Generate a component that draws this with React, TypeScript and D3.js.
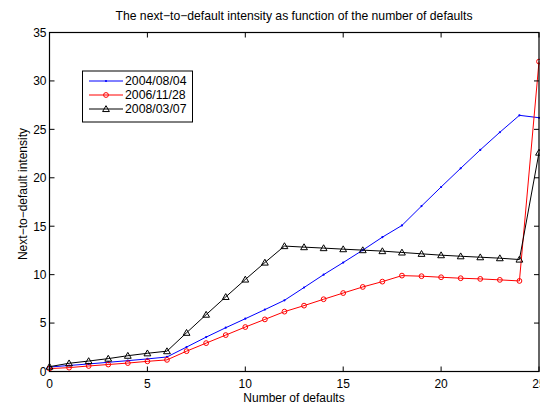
import React from "react";
import * as d3 from "d3";

const xs = d3.range(0, 26);
const blue = [0.46, 0.62, 0.78, 0.95, 1.12, 1.3, 1.5, 2.52, 3.55, 4.52, 5.45, 6.39, 7.35, 8.67, 10.0, 11.25, 12.53, 13.87, 15.08, 17.08, 19.05, 20.98, 22.88, 24.7, 26.45, 26.2];
const red = [0.3, 0.4, 0.57, 0.72, 0.87, 1.05, 1.2, 2.1, 2.93, 3.76, 4.59, 5.38, 6.18, 6.8, 7.46, 8.1, 8.73, 9.28, 9.9, 9.84, 9.73, 9.63, 9.56, 9.46, 9.35, 32.0];
const black = [0.5, 0.85, 1.08, 1.33, 1.63, 1.88, 2.1, 4.0, 5.87, 7.7, 9.5, 11.25, 12.95, 12.84, 12.74, 12.63, 12.53, 12.43, 12.29, 12.15, 12.01, 11.9, 11.8, 11.7, 11.56, 22.6];
const seriesNames = ["2004/08/04", "2006/11/28", "2008/03/07"];
const xTicks = [0, 5, 10, 15, 20, 25];
const yTicks = [0, 5, 10, 15, 20, 25, 30, 35];

const M = { left: 49.5, right: 539, top: 32.5, bottom: 371.5 };
const font = "'Liberation Sans', Arial, Helvetica, sans-serif";

export default function App() {
  const x = d3.scaleLinear().domain([0, 25]).range([M.left, M.right]);
  const y = d3.scaleLinear().domain([0, 35]).range([M.bottom, M.top]);
  const line = d3.line<number>().x((_, i) => x(xs[i])).y((d) => y(d));
  const tri = d3.symbol().type(d3.symbolTriangle).size(20)();
  const series = [
    { name: seriesNames[0], data: blue, color: "#0000ff", marker: "dot" },
    { name: seriesNames[1], data: red, color: "#ff0000", marker: "circle" },
    { name: seriesNames[2], data: black, color: "#000000", marker: "tri" },
  ];
  const mark = (m: string, c: string, cx: number, cy: number, k: string) => {
    if (m === "dot") return <circle key={k} cx={cx} cy={cy} r={1.1} fill={c} />;
    if (m === "circle") return <circle key={k} cx={cx} cy={cy} r={2.4} fill="none" stroke={c} strokeWidth={1} />;
    return <path key={k} d={tri as string} transform={`translate(${cx},${cy + 0.6})`} fill="none" stroke={c} strokeWidth={1} />;
  };
  const tl = 5;
  return (
    <svg width={540} height={408} style={{ position: "absolute", left: 0, top: 0, background: "#fff" }} fontFamily={font}>
      <rect x={0} y={0} width={540} height={408} fill="#fff" />
      <text x={294} y={20} textAnchor="middle" fontSize={12.2}>
        The next−to−default intensity as function of the number of defaults
      </text>
      {series.map((s) => (
        <g key={s.name}>
          <path d={line(s.data) as string} fill="none" stroke={s.color} strokeWidth={1} />
          {s.data.map((v, i) => mark(s.marker, s.color, x(xs[i]), y(v), s.name + i))}
        </g>
      ))}
      {xTicks.map((t) => (
        <g key={"x" + t}>
          <line x1={x(t)} x2={x(t)} y1={M.bottom} y2={M.bottom - tl} stroke="#000" />
          <line x1={x(t)} x2={x(t)} y1={M.top} y2={M.top + tl} stroke="#000" />
          <text x={x(t)} y={M.bottom + 16.5} textAnchor="middle" fontSize={12}>{t}</text>
        </g>
      ))}
      {yTicks.map((t) => (
        <g key={"y" + t}>
          <line x1={M.left} x2={M.left + tl} y1={y(t)} y2={y(t)} stroke="#000" />
          <line x1={M.right} x2={M.right - tl} y1={y(t)} y2={y(t)} stroke="#000" />
          <text x={M.left - 3} y={y(t) + 4.3} textAnchor="end" fontSize={12}>{t}</text>
        </g>
      ))}
      <rect x={M.left} y={M.top} width={M.right - M.left} height={M.bottom - M.top} fill="none" stroke="#000" strokeWidth={1.2} />
      <text x={294} y={402} textAnchor="middle" fontSize={12}>Number of defaults</text>
      <text transform={`translate(27,194) rotate(-90)`} textAnchor="middle" fontSize={12}>
        Next−to−default intensity
      </text>
      <g>
        <rect x={82.5} y={71} width={110} height={51} fill="#fff" stroke="#000" strokeWidth={1} />
        {series.map((s, i) => {
          const ly = 81 + i * 14;
          return (
            <g key={"l" + i}>
              <line x1={89} x2={123} y1={ly} y2={ly} stroke={s.color} strokeWidth={1} />
              {mark(s.marker, s.color, 106, ly, "lm" + i)}
              <text x={125} y={ly + 4.3} fontSize={12.3}>{s.name}</text>
            </g>
          );
        })}
      </g>
    </svg>
  );
}
